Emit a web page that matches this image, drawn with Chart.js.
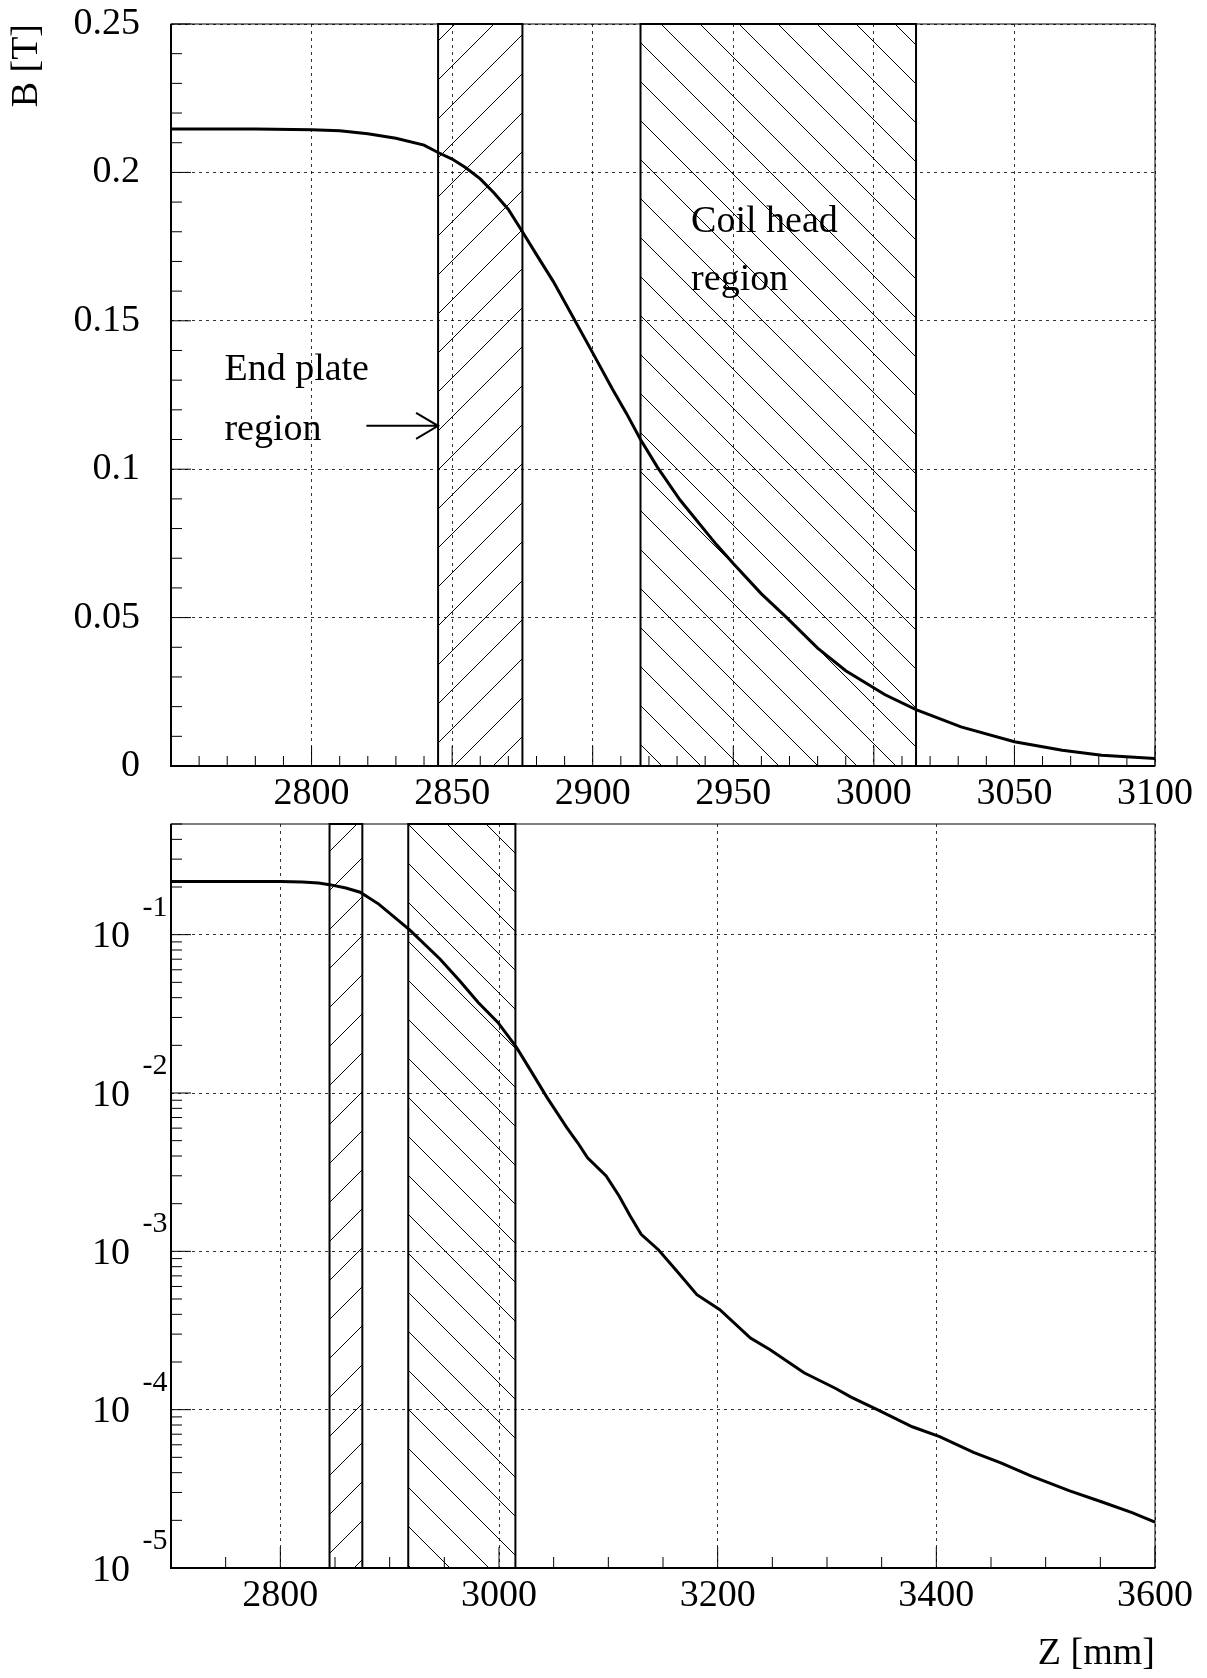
<!DOCTYPE html>
<html>
<head>
<meta charset="utf-8">
<title>Field profile B(Z)</title>
<script src="https://cdn.jsdelivr.net/npm/chart.js@4.4.1/dist/chart.umd.min.js"></script>
<style>
    body { margin: 0; background: #fff; }
    #page { position: relative; width: 1207px; height: 1678px; }
    canvas { position: absolute; left: 0; }
    #topChart { top: 0; }
    #bottomChart { top: 815px; }
</style>
</head>
<body>
<div id="page">
    <canvas id="topChart" width="1207" height="815"></canvas>
    <canvas id="bottomChart" width="1207" height="863"></canvas>
</div>
<script>
// Linear view: Z [mm] and B [T]
const zLin = [2750, 2780, 2800, 2810, 2820, 2830, 2840, 2845, 2850, 2855, 2860, 2865, 2870, 2875,
    2880, 2886, 2892, 2900, 2907, 2912, 2917, 2923, 2931, 2944, 2950, 2960, 2969, 2980, 2990,
    3004, 3015, 3031, 3050, 3067, 3081, 3100];
const bLin = [0.2146, 0.2146, 0.2144, 0.2140, 0.2130, 0.2115, 0.2092, 0.2067, 0.2045, 0.2015, 0.1978, 0.1930, 0.1875, 0.1800,
    0.1723, 0.1632, 0.1530, 0.1392, 0.1270, 0.1188, 0.1100, 0.1007, 0.0897, 0.0746, 0.0682, 0.0580, 0.0500, 0.0397, 0.0321,
    0.0240, 0.0190, 0.0132, 0.0082, 0.0053, 0.0036, 0.0025];

// Log view: Z [mm] and B [T]
const zLog = [2700, 2800, 2820, 2835, 2845, 2860, 2873, 2890, 2918, 2946, 2964, 2981, 2999, 3016, 3030,
    3044, 3062, 3072, 3081, 3098, 3110, 3120, 3130, 3146, 3163, 3181, 3202, 3230, 3248, 3279,
    3308, 3322, 3346, 3378, 3403, 3434, 3459, 3487, 3522, 3551, 3579, 3600];
const bLog = [0.2163, 0.2163, 0.2148, 0.2118, 0.2070, 0.1972, 0.1854, 0.1560, 0.1076, 0.0702, 0.0512, 0.0373, 0.0279, 0.0194, 0.0135,
    0.00935, 0.00604, 0.00485, 0.00390, 0.00299, 0.00223, 0.00167, 0.00128, 0.00102, 0.000746, 0.000532, 0.000428, 0.000283, 0.000239, 0.000171,
    0.000136, 0.000120, 0.000100, 0.0000780, 0.0000675, 0.0000537, 0.0000462, 0.0000380, 0.0000307, 0.0000262, 0.0000224, 0.0000195];

const topZTicks = [2800, 2850, 2900, 2950, 3000, 3050, 3100];
const topBTicks = [0, 0.05, 0.1, 0.15, 0.2, 0.25];
const logZTicks = [2800, 3000, 3200, 3400, 3600];
const logBTicks = [1e-5, 1e-4, 1e-3, 1e-2, 1e-1];

// hatched regions along Z
const endPlateZ = [2845, 2875];
const coilHeadZ = [2917, 3015];

const SERIF = '"Liberation Serif", "Times New Roman", serif';
const HATCH_STEP = 39;

Chart.defaults.font.family = SERIF;
Chart.defaults.color = '#000';

function toPoints(xs, ys) {
    return xs.map((x, i) => ({ x: x, y: ys[i] }));
}

// hatch lines use page coordinates so both panels share the same pattern phase
function hatchBox(chart, range, dir, phase) {
    const { ctx, chartArea, scales } = chart;
    const x0 = scales.x.getPixelForValue(range[0]);
    const x1 = scales.x.getPixelForValue(range[1]);
    const top = chartArea.top;
    const bottom = chartArea.bottom;
    const off = chart.canvas.offsetTop;

    ctx.save();
    ctx.beginPath();
    ctx.rect(x0, top, x1 - x0, bottom - top);
    ctx.clip();
    ctx.strokeStyle = '#000';
    ctx.lineWidth = 1;
    ctx.beginPath();
    if (dir === '/') {
        let c = x0 + top + off;
        c = Math.floor((c - phase) / HATCH_STEP) * HATCH_STEP + phase;
        for (; c <= x1 + bottom + off + HATCH_STEP; c += HATCH_STEP) {
            ctx.moveTo(c - (top + off), top);
            ctx.lineTo(c - (bottom + off), bottom);
        }
    } else {
        let c = x0 - (bottom + off);
        c = Math.floor((c - phase) / HATCH_STEP) * HATCH_STEP + phase;
        for (; c <= x1 - (top + off) + HATCH_STEP; c += HATCH_STEP) {
            ctx.moveTo(c + top + off, top);
            ctx.lineTo(c + bottom + off, bottom);
        }
    }
    ctx.stroke();
    ctx.restore();

    ctx.save();
    ctx.strokeStyle = '#000';
    ctx.lineWidth = 2;
    ctx.strokeRect(x0, top, x1 - x0, bottom - top);
    ctx.restore();
}

function drawFrame(chart) {
    const { ctx, chartArea: a } = chart;
    ctx.save();
    ctx.strokeStyle = '#000';
    ctx.lineWidth = 1;
    ctx.strokeRect(a.left, a.top, a.right - a.left, a.bottom - a.top);
    ctx.lineWidth = 2;
    ctx.beginPath();
    ctx.moveTo(a.left, a.top);
    ctx.lineTo(a.left, a.bottom);
    ctx.lineTo(a.right, a.bottom);
    ctx.stroke();
    ctx.restore();
}

const hatchPlugin = {
    id: 'hatchRegions',
    beforeDatasetsDraw(chart) {
        hatchBox(chart, endPlateZ, '/', 11);
        hatchBox(chart, coilHeadZ, '\\', 13);
    }
};

const topTicksPlugin = {
    id: 'topTicks',
    afterDatasetsDraw(chart) {
        const { ctx, chartArea: a, scales: { x, y } } = chart;
        drawFrame(chart);
        ctx.save();
        ctx.strokeStyle = '#000';
        ctx.lineWidth = 1;
        ctx.beginPath();
        for (let z = 2750; z <= 3100; z += 10) {
            const px = x.getPixelForValue(z);
            const len = z % 50 === 0 ? 20 : 10;
            ctx.moveTo(px, a.bottom);
            ctx.lineTo(px, a.bottom - len);
        }
        for (let i = 0; i <= 25; i++) {
            const py = y.getPixelForValue(i / 100);
            const len = i % 5 === 0 ? 20 : 11;
            ctx.moveTo(a.left, py);
            ctx.lineTo(a.left + len, py);
        }
        ctx.stroke();

        // annotations
        ctx.fillStyle = '#000';
        ctx.font = '38px ' + SERIF;
        ctx.textAlign = 'left';
        ctx.textBaseline = 'alphabetic';
        ctx.fillText('End plate', x.getPixelForValue(2769), y.getPixelForValue(0.130));
        ctx.fillText('region', x.getPixelForValue(2769), y.getPixelForValue(0.1098));
        ctx.fillText('Coil head', x.getPixelForValue(2935), y.getPixelForValue(0.1799));
        ctx.fillText('region', x.getPixelForValue(2935), y.getPixelForValue(0.1604));

        const ay = y.getPixelForValue(0.1146);
        const ax0 = x.getPixelForValue(2819.5);
        const ax1 = x.getPixelForValue(endPlateZ[0]);
        ctx.lineWidth = 2;
        ctx.beginPath();
        ctx.moveTo(ax0, ay);
        ctx.lineTo(ax1, ay);
        ctx.moveTo(ax1 - 22, ay - 13);
        ctx.lineTo(ax1, ay);
        ctx.lineTo(ax1 - 22, ay + 13);
        ctx.stroke();
        ctx.restore();
    }
};

const logTicksPlugin = {
    id: 'logTicks',
    afterDatasetsDraw(chart) {
        const { ctx, chartArea: a, scales: { x, y } } = chart;
        drawFrame(chart);
        ctx.save();
        ctx.strokeStyle = '#000';
        ctx.lineWidth = 1;
        ctx.beginPath();
        for (let z = 2700; z <= 3600; z += 50) {
            const px = x.getPixelForValue(z);
            const len = z % 200 === 0 ? 21 : 11;
            ctx.moveTo(px, a.bottom);
            ctx.lineTo(px, a.bottom - len);
        }
        for (let k = -5; k <= -1; k++) {
            for (let m = 1; m <= 9; m++) {
                const v = m * Math.pow(10, k);
                if (v > 0.5) break;
                const py = y.getPixelForValue(v);
                const len = m === 1 ? 20 : 11;
                ctx.moveTo(a.left, py);
                ctx.lineTo(a.left + len, py);
            }
        }
        ctx.stroke();

        // 10^n labels
        ctx.fillStyle = '#000';
        ctx.textBaseline = 'alphabetic';
        logBTicks.forEach(v => {
            const py = y.getPixelForValue(v);
            const exp = Math.round(Math.log10(v));
            ctx.font = '38px ' + SERIF;
            ctx.textAlign = 'right';
            ctx.fillText('10', a.left - 41, py + 12.6);
            ctx.font = '30px ' + SERIF;
            ctx.textAlign = 'left';
            ctx.fillText(String(exp), a.left - 28.5, py - 19);
        });
        ctx.restore();
    }
};

const gridStyle = { color: 'rgba(0,0,0,0.8)', lineWidth: 1, drawTicks: false };
// y labels sit 31px off the axis; an invisible tick mark gives the gap without extra layout padding
const yGridStyle = { color: 'rgba(0,0,0,0.8)', lineWidth: 1, drawTicks: true, tickLength: 31, tickColor: 'rgba(0,0,0,0)' };
const dotted = { display: false, dash: [3, 4] };
const labelFont = { family: SERIF, size: 38 };

const lineDataset = (xs, ys) => ({
    data: toPoints(xs, ys),
    borderColor: '#000',
    borderWidth: 3,
    pointRadius: 0,
    tension: 0,
    fill: false
});

new Chart(document.getElementById('topChart'), {
    type: 'line',
    data: { datasets: [lineDataset(zLin, bLin)] },
    options: {
        responsive: false,
        animation: false,
        events: [],
        layout: { autoPadding: false, padding: { top: 24, right: 52, bottom: 0, left: 0 } },
        plugins: { legend: { display: false }, tooltip: { enabled: false } },
        scales: {
            x: {
                type: 'linear',
                min: 2750,
                max: 3100,
                afterFit: s => { s.height = 49; },
                afterBuildTicks: s => { s.ticks = topZTicks.map(v => ({ value: v })); },
                ticks: { callback: v => String(v), font: labelFont, padding: 5, maxRotation: 0, minRotation: 0, autoSkip: false },
                grid: gridStyle,
                border: dotted
            },
            y: {
                type: 'linear',
                min: 0,
                max: 0.25,
                afterFit: s => { s.width = 171; },
                afterBuildTicks: s => { s.ticks = topBTicks.map(v => ({ value: v })); },
                ticks: { callback: v => String(v), font: labelFont, padding: 0, autoSkip: false },
                grid: yGridStyle,
                border: dotted,
                title: { display: true, text: 'B [T]', align: 'end', font: labelFont, padding: { top: 4, bottom: 0 } }
            }
        }
    },
    plugins: [hatchPlugin, topTicksPlugin]
});

new Chart(document.getElementById('bottomChart'), {
    type: 'line',
    data: { datasets: [lineDataset(zLog, bLog)] },
    options: {
        responsive: false,
        animation: false,
        events: [],
        layout: { autoPadding: false, padding: { top: 9, right: 52, bottom: 0, left: 0 } },
        plugins: { legend: { display: false }, tooltip: { enabled: false } },
        scales: {
            x: {
                type: 'linear',
                min: 2700,
                max: 3600,
                afterFit: s => { s.height = 110; },
                afterBuildTicks: s => { s.ticks = logZTicks.map(v => ({ value: v })); },
                ticks: { callback: v => String(v), font: labelFont, padding: 5, maxRotation: 0, minRotation: 0, autoSkip: false },
                grid: gridStyle,
                border: dotted,
                title: { display: true, text: 'Z [mm]', align: 'end', font: labelFont, padding: { top: 0, bottom: 1 } }
            },
            y: {
                type: 'logarithmic',
                min: 1e-5,
                max: 0.5,
                afterFit: s => { s.width = 171; },
                afterBuildTicks: s => { s.ticks = logBTicks.map(v => ({ value: v })); },
                ticks: { display: false },
                grid: gridStyle,
                border: dotted
            }
        }
    },
    plugins: [hatchPlugin, logTicksPlugin]
});
</script>
</body>
</html>
